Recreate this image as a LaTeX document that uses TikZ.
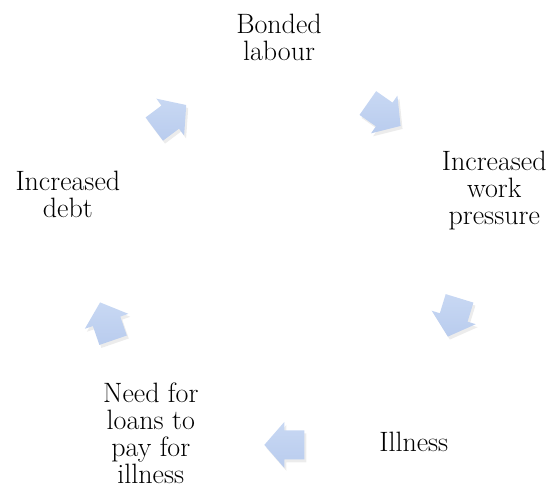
\documentclass[tikz,border=0pt]{standalone}
\usepackage{tikz}
\usetikzlibrary{calc, positioning, shadows}
\definecolor{arrtop}{RGB}{200,216,243}
\definecolor{arrbot}{RGB}{185,204,238}
\tikzstyle{txt}=[inner sep=0pt, align=center, text=black, font=\fontsize{28}{27}\selectfont]
\tikzstyle{blk}=[top color=arrtop, bottom color=arrbot, draw=none, drop shadow={opacity=.15, shadow xshift=2pt, shadow yshift=-3pt}]
\tikzset{
  pics/cyclearrow/.style={code={
    \path[blk] (-19,-14.5) -- (1,-14.5) -- (1,-23) -- (21,0) -- (1,23) -- (1,14.5) -- (-19,14.5) -- cycle;
  }}
}

\begin{document}
\begin{tikzpicture}[x=1pt, y=1pt]
\useasboundingbox (-279,-233) rectangle (275,263);

\node[txt] (T0) at (90:226) {Bonded\\labour};
\node[txt] (T1) at (18.5:227) {Increased\\work\\pressure};
\node[txt] (T2) at (-53:224) {Illness};
\node[txt] (T3) at (-127:213) {Need for\\loans to\\pay for\\illness};
\node[txt] (T4) at (162:222) {Increased\\debt};

\pic[rotate=-35] (R0) at (55:182) {cyclearrow};
\pic[rotate=-107] (R1) at (-17:183) {cyclearrow};
\pic[rotate=180] (R2) at (-88:182) {cyclearrow};
\pic[rotate=109] (R3) at (-161:182) {cyclearrow};
\pic[rotate=37] (R4) at (127:182) {cyclearrow};
\end{tikzpicture}
\end{document}
